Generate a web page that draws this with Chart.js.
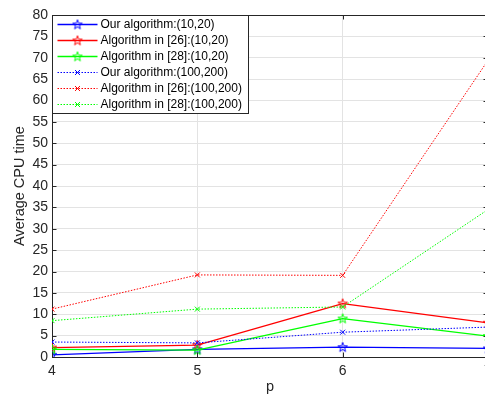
<!DOCTYPE html>
<html>
<head>
<meta charset="utf-8">
<script src="https://cdn.jsdelivr.net/npm/chart.js@4.4.0/dist/chart.umd.min.js"></script>
<style>
  html, body { margin: 0; padding: 0; background: #fff; overflow: hidden; }
</style>
</head>
<body>
<!-- the original figure is cropped a few pixels past x = 7, so the canvas is a bit wider than the window -->
<canvas id="chart" width="488" height="399"></canvas>
<script>
// values
const pValues = [4, 5, 6, 7];
const seriesNames = [
    "Our algorithm:(10,20)",
    "Algorithm in [26]:(10,20)",
    "Algorithm in [28]:(10,20)",
    "Our algorithm:(100,200)",
    "Algorithm in [26]:(100,200)",
    "Algorithm in [28]:(100,200)"
];
const ours10 = [0.5, 1.8, 2.3, 2.0];
const ref26_10 = [2.2, 2.8, 12.5, 8.0];
const ref28_10 = [1.8, 1.6, 9.0, 4.9];
const ours100 = [3.5, 3.3, 5.8, 7.0];
const ref26_100 = [11.2, 19.2, 19.1, 69.4];
const ref28_100 = [8.5, 11.2, 11.7, 34.5];
const xTicks = [4, 5, 6, 7];
const yTicks = [0, 5, 10, 15, 20, 25, 30, 35, 40, 45, 50, 55, 60, 65, 70, 75, 80];

const FONT = "'Liberation Sans', Arial, sans-serif";
const AXIS = '#262626';

// matlab style pentagram marker
function pentagram(color) {
    const c = document.createElement('canvas');
    c.width = 12; c.height = 12;
    const g = c.getContext('2d');
    const R = 5, r = 2, cx = 6, cy = 6.3;
    g.beginPath();
    for (let i = 0; i < 10; i++) {
        const rad = i % 2 === 0 ? R : r;
        const a = -Math.PI / 2 + i * Math.PI / 5;
        const x = cx + rad * Math.cos(a), y = cy + rad * Math.sin(a);
        if (i === 0) g.moveTo(x, y); else g.lineTo(x, y);
    }
    g.closePath();
    g.strokeStyle = color;
    g.lineWidth = 1;
    g.stroke();
    return c;
}

function solid(label, data, color) {
    return {
        label: label, data: data, borderColor: color, backgroundColor: color,
        borderWidth: 1.3, pointStyle: pentagram(color), pointRadius: 5,
        tension: 0, fill: false
    };
}
function dotted(label, data, color) {
    return {
        label: label, data: data, borderColor: color, backgroundColor: color,
        borderWidth: 1, borderDash: [1.5, 1.5], pointStyle: 'crossRot', pointRadius: 3.5,
        pointBorderWidth: 1, tension: 0, fill: false
    };
}

const datasets = [
    solid(seriesNames[0], ours10, '#0000ff'),
    solid(seriesNames[1], ref26_10, '#ff0000'),
    solid(seriesNames[2], ref28_10, '#00ff00'),
    dotted(seriesNames[3], ours100, '#0000ff'),
    dotted(seriesNames[4], ref26_100, '#ff0000'),
    dotted(seriesNames[5], ref28_100, '#00ff00')
];
datasets.forEach((d, i) => { d.order = -i; });

// box, inner ticks and legend drawn like matlab
const matlabFrame = {
    id: 'matlabFrame',
    afterDatasetsDraw(chart) {
        const ctx = chart.ctx;
        const a = chart.chartArea;
        const xs = chart.scales.x, ys = chart.scales.y;
        ctx.save();
        ctx.strokeStyle = AXIS;
        ctx.lineWidth = 1;
        ctx.beginPath();
        ctx.moveTo(a.left, a.top + 0.5); ctx.lineTo(a.right, a.top + 0.5);
        ctx.moveTo(a.right - 0.5, a.top); ctx.lineTo(a.right - 0.5, a.bottom);
        const tl = 4.5;
        yTicks.forEach(v => {
            const y = Math.round(ys.getPixelForValue(v)) + 0.5;
            ctx.moveTo(a.left, y); ctx.lineTo(a.left + tl, y);
            ctx.moveTo(a.right, y); ctx.lineTo(a.right - tl, y);
        });
        xTicks.forEach(v => {
            const x = Math.round(xs.getPixelForValue(v)) + 0.5;
            ctx.moveTo(x, a.bottom); ctx.lineTo(x, a.bottom - tl);
            ctx.moveTo(x, a.top); ctx.lineTo(x, a.top + tl);
        });
        ctx.stroke();

        // legend
        const lx = a.left + 0.5, ly = a.top + 0.5, lw = 196, lh = 98;
        ctx.fillStyle = '#fff';
        ctx.fillRect(lx, ly, lw, lh);
        ctx.strokeStyle = AXIS;
        ctx.strokeRect(lx, ly, lw, lh);
        ctx.font = '12px ' + FONT;
        ctx.textBaseline = 'middle';
        chart.data.datasets.forEach((d, i) => {
            const y = ly + 9 + i * 16;
            ctx.strokeStyle = d.borderColor;
            ctx.lineWidth = d.borderWidth;
            ctx.setLineDash(d.borderDash || []);
            ctx.beginPath();
            ctx.moveTo(lx + 5, y); ctx.lineTo(lx + 45, y);
            ctx.stroke();
            ctx.setLineDash([]);
            Chart.helpers.drawPoint(ctx, {
                pointStyle: d.pointStyle, radius: d.pointRadius, borderWidth: 1, rotation: 0
            }, lx + 25, y);
            ctx.fillStyle = '#000';
            ctx.fillText(d.label, lx + 48, y + 0.5);
        });
        ctx.restore();
    }
};

new Chart(document.getElementById('chart'), {
    type: 'line',
    data: { labels: pValues, datasets: datasets },
    options: {
        responsive: false,
        animation: false,
        layout: { autoPadding: false, padding: { top: 15, right: 0, left: 0, bottom: 0 } },
        plugins: { legend: { display: false }, tooltip: { enabled: false } },
        elements: { line: { borderJoinStyle: 'round' } },
        scales: {
            x: {
                type: 'linear',
                min: 4, max: 7,
                afterBuildTicks(s) { s.ticks = xTicks.map(v => ({ value: v })); },
                afterFit(s) { s.height = 42; s.paddingLeft = 0; s.paddingRight = 0; },
                grid: { color: '#e3e3e3', drawTicks: false },
                border: { color: AXIS, width: 1 },
                ticks: { color: AXIS, padding: 6, font: { family: FONT, size: 14 } },
                title: {
                    display: true, text: 'p', color: AXIS,
                    font: { family: FONT, size: 14.5 }, padding: { top: 0, bottom: 3 }
                }
            },
            y: {
                min: 0, max: 80,
                afterBuildTicks(s) { s.ticks = yTicks.map(v => ({ value: v })); },
                afterFit(s) { s.width = 52; s.paddingTop = 0; s.paddingBottom = 0; },
                grid: { color: '#e3e3e3', drawTicks: false },
                border: { color: AXIS, width: 1 },
                ticks: { color: AXIS, padding: 4, font: { family: FONT, size: 14 } },
                title: {
                    display: true, text: 'Average CPU time', color: AXIS,
                    font: { family: FONT, size: 14.5 }, padding: { top: 11, bottom: 0 }
                }
            }
        }
    },
    plugins: [matlabFrame]
});
</script>
</body>
</html>
